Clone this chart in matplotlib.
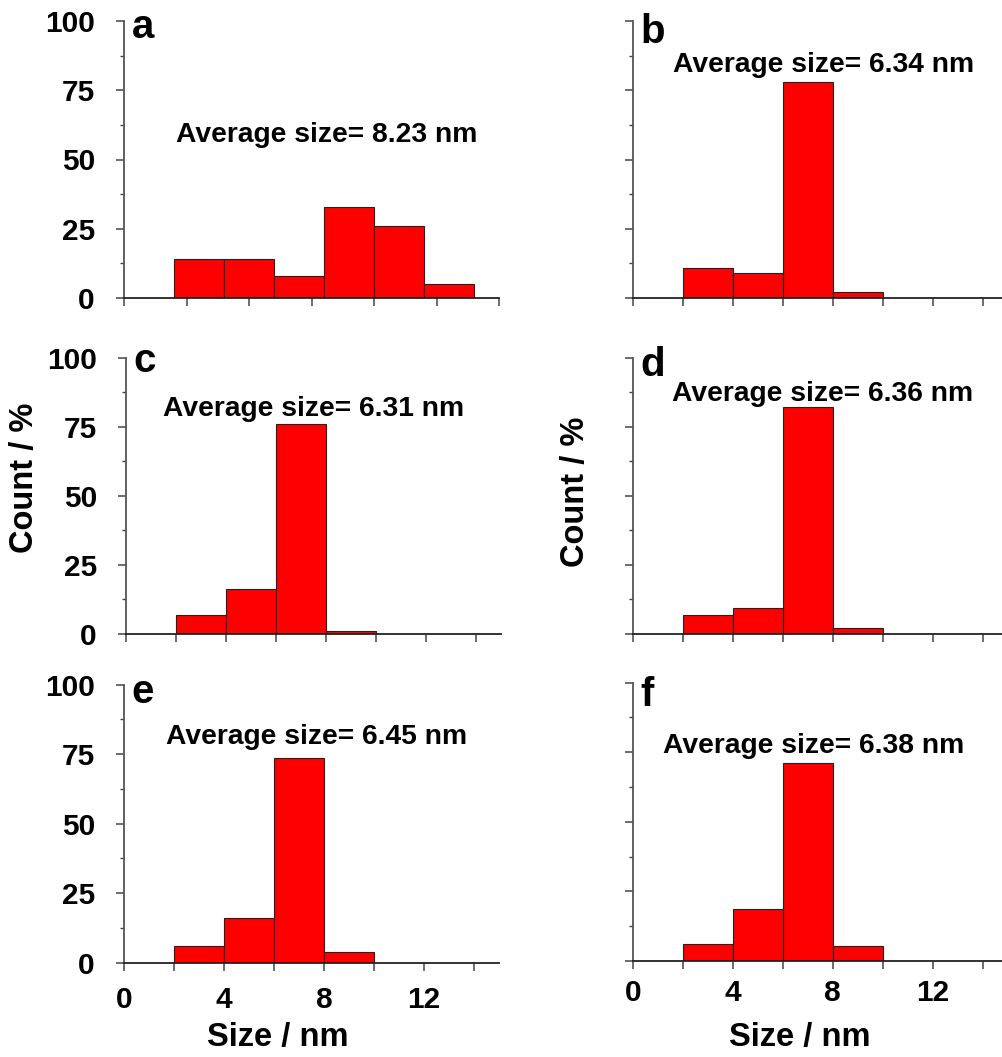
import matplotlib
matplotlib.use("Agg")
import matplotlib.pyplot as plt
from matplotlib.ticker import MultipleLocator, NullFormatter

plt.rcParams['font.family'] = ['Liberation Sans', 'DejaVu Sans']
plt.rcParams['font.weight'] = 'bold'

# histogram bins (nm) and percentages
edges = [2, 4, 6, 8, 10, 12, 14]
counts_a = [14, 14, 8, 33, 26, 5]
counts_b = [11, 9, 78, 2]
counts_c = [7, 16.4, 76, 1.1]
counts_d = [7, 9.3, 82, 2.2]
counts_e = [6.1, 16, 73.7, 4]
counts_f = [6.1, 18.6, 71.3, 5.5]

letters = ['a', 'b', 'c', 'd', 'e', 'f']
averages = ['8.23', '6.34', '6.31', '6.36', '6.45', '6.38']
all_counts = [counts_a, counts_b, counts_c, counts_d, counts_e, counts_f]

# text anchor positions (data coords) for the "Average size" notes
note_x = [2.08, 1.6, 1.47, 1.56, 1.67, 1.22]
note_y = [58.8, 84.1, 81.5, 86.9, 81.1, 77.3]
letter_y = [93.9, 92.0, 94.7, 93.5, 93.4, 91.5]

W, H = 1002, 1057
fig = plt.figure(figsize=(W / 100, H / 100), dpi=100)

# axes boxes in pixels: left, bottom(y of zero line), top(y of 100)
lefts = [124, 632.7, 126, 632.7, 124, 632.7]
bottoms = [298, 298, 634, 634, 962.7, 961]
tops = [21, 21, 357.7, 357.7, 684.5, 682.7]
width_px = 375

for i in range(6):
    l, b, t = lefts[i], bottoms[i], tops[i]
    ax = fig.add_axes([l / W, 1 - b / H, width_px / W, (b - t) / H])
    c = all_counts[i]
    ax.bar(edges[:len(c)], c, width=2, align='edge', color='#ff0000',
           edgecolor='#222222', linewidth=0.8)
    ax.set_xlim(0, 15)
    ax.set_ylim(0, 100)
    for s in ['top', 'right']:
        ax.spines[s].set_visible(False)
    ax.spines['left'].set_color('#555555')
    ax.spines['left'].set_linewidth(1.3)
    ax.spines['bottom'].set_color('#222222')
    ax.spines['bottom'].set_linewidth(1.3)

    ax.yaxis.set_major_locator(MultipleLocator(25))
    ax.yaxis.set_minor_locator(MultipleLocator(12.5))
    if i == 0:
        ax.xaxis.set_major_locator(MultipleLocator(2.5))
    else:
        ax.xaxis.set_major_locator(MultipleLocator(2))
    ax.tick_params(axis='both', which='major', direction='out', length=6,
                   width=1.1, color='#444444', labelsize=21.5)
    ax.tick_params(axis='y', which='minor', direction='out', length=3,
                   width=1, color='#444444')
    ax.tick_params(axis='y', which='major', pad=15)

    if i % 2 == 1:
        ax.yaxis.set_major_formatter(NullFormatter())
    if i < 4:
        ax.xaxis.set_major_formatter(NullFormatter())
    else:
        ax.set_xticks([0, 2, 4, 6, 8, 10, 12, 14])
        ax.set_xticklabels(['0', '', '4', '', '8', '', '12', ''])
        ax.tick_params(axis='x', which='major', pad=11 if i == 4 else 7)

    ax.text(0.3, letter_y[i], letters[i], fontsize=29, fontweight='bold',
            ha='left', va='baseline')
    ax.text(note_x[i], note_y[i], 'Average size= ' + averages[i] + ' nm',
            fontsize=20.3, fontweight='bold', ha='left', va='center')

fig.text(278 / W, 1 - 1046 / H, 'Size / nm', fontsize=23.5, fontweight='bold',
         ha='center', va='baseline')
fig.text(800 / W, 1 - 1046 / H, 'Size / nm', fontsize=23.5, fontweight='bold',
         ha='center', va='baseline')
fig.text(25 / W, 1 - 478 / H, 'Count / %', fontsize=23.5, fontweight='bold',
         ha='center', va='center', rotation=90)
fig.text(575.5 / W, 1 - 491.7 / H, 'Count / %', fontsize=23.5, fontweight='bold',
         ha='center', va='center', rotation=90)

fig.savefig('out.png', dpi=100)
